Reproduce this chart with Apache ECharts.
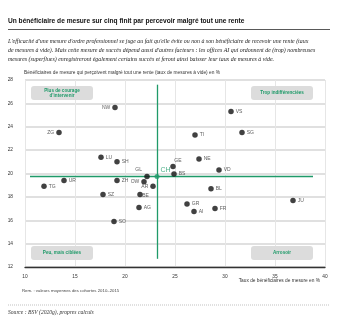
<!DOCTYPE html>
<html><head><meta charset="utf-8">
<script src="https://cdn.jsdelivr.net/npm/echarts@6/dist/echarts.min.js"></script>
<style>html,body{margin:0;padding:0;background:#fff}#c{width:339px;height:324px}</style>
</head><body><div id="c"></div>
<script>
const cantons = ['NW','ZG','LU','SH','GL','UR','ZH','TG','OW','AR','SZ','BE','AG','SO','VS','SG','TI','NE','GE','BS','VD','BL','JU','GR','AI','FR'];
const xVals   = [19.0,13.4,17.6,19.2,22.2,13.9,19.2,11.9,21.9,22.8,17.8,21.5,21.4,18.9,30.6,31.7,27.0,27.4,24.8,24.9,29.4,28.6,36.8,26.2,26.9,29.0];
const yVals   = [25.65,23.5,21.4,21.0,19.75,19.4,19.4,18.9,19.3,18.9,18.2,18.2,17.1,15.9,25.3,23.5,23.3,21.25,20.6,19.95,20.3,18.7,17.7,17.4,16.75,17.0];
const chName = 'CH';
const chX = 23.2, chY = 19.75;
const xTicks = [10,15,20,25,30,35,40];
const yTicks = [12,14,16,18,20,22,24,26,28];

const leftLabels = ['NW','ZG','OW','AR'];
const green = '#1f9a69';
const chart = echarts.init(document.getElementById('c'));
const pts = cantons.map((n,i)=>{
  let pos = leftLabels.includes(n) ? 'left' : 'right';
  if (n==='GL') pos = ['-9','-7'];
  if (n==='GE') pos = ['4','-6'];
  if (n==='BE') pos = ['5','1'];
  return {name:n, value:[xVals[i], yVals[i]], label:{position:pos}};
});
const paraLines = [
 "L'efficacité d'une mesure d'ordre professionnel se juge au fait qu'elle évite ou non à son bénéficiaire de recevoir une rente (taux",
 "de mesures à vide). Mais cette mesure de succès dépend aussi d'autres facteurs : les offices AI qui ordonnent de (trop) nombreuses",
 "mesures (superflues) enregistreront également certains succès et feront ainsi baisser leur taux de mesures à vide."
];
const graphics = [
  {type:'text', left:8, top:18, style:{text:'Un bénéficiaire de mesure sur cinq finit par percevoir malgré tout une rente', font:'bold 6.6px "Liberation Sans"', fill:'#111'}},
  {type:'rect', shape:{x:8,y:29,width:322,height:0.8}, style:{fill:'#222'}},
  ...paraLines.map((t,i)=>({type:'text', left:8, top:38+i*9, style:{text:t, font:'italic 5.9px "Liberation Serif"', fill:'#222'}})),
  {type:'text', left:24, top:70, style:{text:'Bénéficiaires de mesure qui perçoivent malgré tout une rente (taux de mesures à vide) en %', font:'4.8px "Liberation Sans"', fill:'#333'}},
  {type:'text', right:19, top:278, style:{text:'Taux de bénéficiaires de mesure en %', font:'4.8px "Liberation Sans"', fill:'#333'}},
  {type:'text', left:22, top:289, style:{text:'Rem. : valeurs moyennes des cohortes 2010–2015', font:'4.3px "Liberation Sans"', fill:'#444'}},
  {type:'line', shape:{x1:8,y1:305,x2:330,y2:305}, style:{stroke:'#999', lineWidth:0.6, lineDash:[1,1]}},
  {type:'text', left:8, top:310, style:{text:'Source : BSV (2020g), propres calculs', font:'italic 5.6px "Liberation Serif"', fill:'#333'}},
];
const boxes = [
  {x:31,y:86,t:'Plus de courage\nd\u2019intervenir'},
  {x:251,y:86,t:'Trop indifférenciées'},
  {x:31,y:246,t:'Peu, mais ciblées'},
  {x:251,y:246,t:'Arrosoir'}
];
boxes.forEach(b=>{
  graphics.push({type:'rect', shape:{x:b.x,y:b.y,width:62,height:14,r:3}, style:{fill:'#dcdcdc'}, z:5});
  graphics.push({type:'text', x:b.x+31, y:b.y+7, style:{text:b.t, font:'bold 4.6px "Liberation Sans"', fill:green, align:'center', verticalAlign:'middle', lineHeight:5}, z:6});
});

chart.setOption({
  animation:false,
  grid:{left:25, right:14, top:80, bottom:57, containLabel:false},
  xAxis:{type:'value', min:10, max:40, interval:5,
    axisLine:{show:true, onZero:false, lineStyle:{color:'#333', width:1.3}},
    axisTick:{show:false},
    axisLabel:{fontSize:4.8, color:'#333', margin:7, fontFamily:'Liberation Sans', formatter:v=>xTicks.includes(v)?String(v):''},
    splitLine:{show:true, lineStyle:{color:'#e6e6e6', width:1}}},
  yAxis:{type:'value', min:12, max:28, interval:2,
    axisLine:{show:false}, axisTick:{show:false},
    axisLabel:{fontSize:4.8, color:'#333', margin:12, fontFamily:'Liberation Sans', formatter:v=>yTicks.includes(v)?String(v):''},
    splitLine:{show:true, lineStyle:{color:'#d6d6d6', width:1.6}}},
  graphic:graphics,
  series:[
    {type:'scatter', symbolSize:5.5, itemStyle:{color:'#111'}, data:pts, z:4,
     label:{show:true, formatter:'{b}', fontSize:5, color:'#333', distance:2, fontFamily:'Liberation Sans'}},
    {type:'scatter', symbolSize:5, itemStyle:{color:green}, z:4,
     data:[{name:chName, value:[chX,chY]}],
     label:{show:true, formatter:'{b}', position:['6','-7'], fontSize:7, color:green, fontFamily:'Liberation Sans'},
     markLine:{silent:true, symbol:'none', label:{show:false}, z:3,
       data:[
         [{coord:[chX,27.6], lineStyle:{color:green, width:1.3, type:'solid'}},{coord:[chX,12.7]}],
         [{coord:[10.5,chY], lineStyle:{color:green, width:1.3, type:'solid'}},{coord:[38.8,chY]}]
       ]}}
  ]
});
</script></body></html>
